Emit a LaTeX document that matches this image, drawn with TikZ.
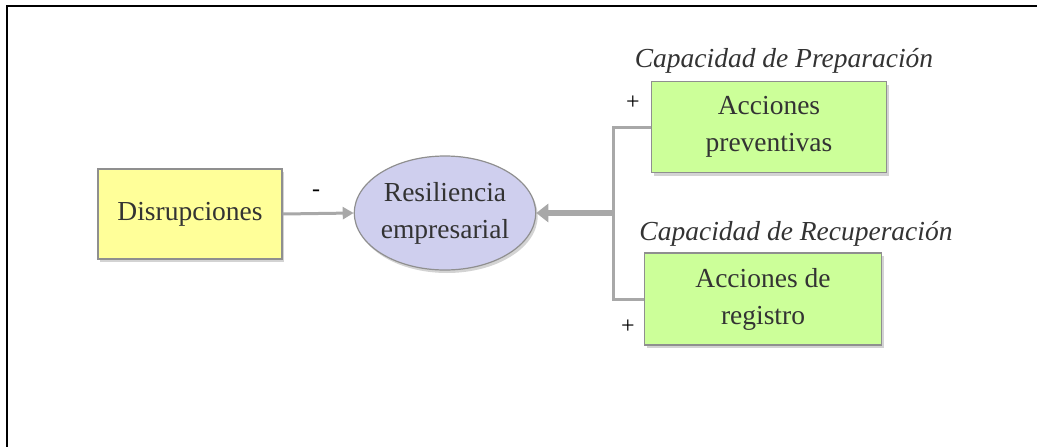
\documentclass[tikz,border=0pt]{standalone}
\usepackage{fontspec}
\setmainfont{Liberation Serif}
\usetikzlibrary{shapes.geometric,arrows.meta,shadows}
\definecolor{txt}{HTML}{333333}
\definecolor{edge}{HTML}{8F8F8F}
\definecolor{link}{HTML}{A8A8A8}
\definecolor{yfill}{HTML}{FFFF99}
\definecolor{gfill}{HTML}{CCFF99}
\definecolor{efill}{HTML}{CFCFEE}
\tikzset{
  boxstyle/.style={draw=edge, line width=1.2pt, text=txt, align=center,
    inner sep=0pt, font=\fontsize{27.5}{37}\selectfont,
    drop shadow={opacity=0.35, shadow xshift=2pt, shadow yshift=-3pt}},
  conn/.style={draw=link, line width=3pt},
  sign/.style={text=black, font=\fontsize{24}{28}\selectfont, inner sep=0pt},
  caption/.style={text=txt, font=\fontsize{27.5}{32}\selectfont\itshape, inner sep=0pt}
}
\begin{document}
\begin{tikzpicture}[x=1pt, y=-1pt]
  \useasboundingbox (0,0) rectangle (1037,447);
  % open frame: top and left edges only
  \draw[line width=2.5pt, black] (7,447) -- (7,6) -- (1037,6);

  \node[boxstyle, fill=yfill, minimum width=184pt, minimum height=90pt]
    (dis) at (190,214) {Disrupciones};
  \node[boxstyle, ellipse, fill=efill, minimum width=180pt, minimum height=114pt]
    (res) at (445,213) {Resiliencia\\empresarial};
  \node[boxstyle, fill=gfill, minimum width=235pt, minimum height=91pt]
    (prev) at (769,127) {Acciones\\preventivas};
  \node[boxstyle, fill=gfill, minimum width=237pt, minimum height=92pt]
    (reg) at (763,299) {Acciones de\\registro};

  \node[caption] (cprep) at (784,61) {Capacidad de Preparación};
  \node[caption] (crec) at (796,234) {Capacidad de Recuperación};

  \node[sign] (minus) at (316,193) {-};
  \node[sign] (plus1) at (633,103) {+};
  \node[sign] (plus2) at (628,327) {+};

  \coordinate (j) at (613,213);
  \draw[conn, -{Triangle[length=11pt,width=12pt]}] (dis.east) -- (res.west);
  \draw[conn] (prev.west) -| (j) |- (reg.west);
  \draw[draw=link, line width=6pt, -{Triangle[length=12pt,width=18pt]}] (j) -- (res.east);
\end{tikzpicture}
\end{document}
